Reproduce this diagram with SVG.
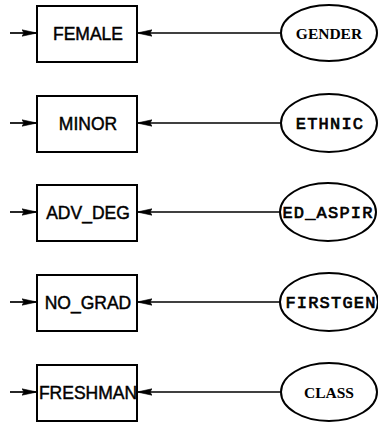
<svg xmlns="http://www.w3.org/2000/svg" width="378" height="424" viewBox="0 0 378 424">
<style>
.box{fill:#fff;stroke:#000;stroke-width:2}
.ell{fill:#fff;stroke:#000;stroke-width:2}
.lbl{font-family:"Liberation Sans",Arial,sans-serif;font-size:17.5px;text-anchor:middle;fill:#000;stroke:#000;stroke-width:0.45}
.mono{font-family:"Liberation Mono","Courier New",monospace;font-size:17px;letter-spacing:1.2px;text-anchor:middle;fill:#000;stroke:#000;stroke-width:0.7}
.serif{font-family:"Liberation Serif","Times New Roman",serif;font-size:15.5px;font-weight:bold;text-anchor:middle;fill:#000}
.con{stroke:#000;stroke-width:1.7;fill:none;marker-end:url(#ah)}
</style>
<defs>
<marker id="ah" markerUnits="userSpaceOnUse" markerWidth="16" markerHeight="9" refX="15" refY="4" orient="auto">
<path d="M0,0.8 L15,4 L0,7.2 L2,4 Z" fill="#000" stroke="#000" stroke-width="0.6"/>
</marker>
</defs>
<g id="connectors">
<line class="con" x1="10" y1="33" x2="37" y2="33"/>
<line class="con" x1="281" y1="33" x2="137" y2="33"/>
<line class="con" x1="10" y1="123" x2="37" y2="123"/>
<line class="con" x1="281" y1="123" x2="137" y2="123"/>
<line class="con" x1="10" y1="212" x2="37" y2="212"/>
<line class="con" x1="281" y1="212" x2="137" y2="212"/>
<line class="con" x1="10" y1="302" x2="37" y2="302"/>
<line class="con" x1="280" y1="302" x2="137" y2="302"/>
<line class="con" x1="10" y1="392" x2="37" y2="392"/>
<line class="con" x1="281" y1="392" x2="137" y2="392"/>
</g>
<g id="FEMALE"><rect class="box" x="37" y="6" width="100" height="56"/><text class="lbl" x="88" y="39.5">FEMALE</text></g>
<g id="MINOR"><rect class="box" x="37" y="96" width="100" height="56"/><text class="lbl" x="88" y="129.5">MINOR</text></g>
<g id="ADV_DEG"><rect class="box" x="37" y="185" width="100" height="56"/><text class="lbl" x="88" y="218.5">ADV_DEG</text></g>
<g id="NO_GRAD"><rect class="box" x="37" y="275" width="100" height="56"/><text class="lbl" x="88" y="308.5">NO_GRAD</text></g>
<g id="FRESHMAN"><rect class="box" x="37" y="365" width="100" height="56"/><text class="lbl" x="88" y="398.5">FRESHMAN</text></g>
<g id="GENDER"><ellipse class="ell" cx="329" cy="33" rx="48" ry="28"/><text class="serif" x="329" y="38.5">GENDER</text></g>
<g id="ETHNIC"><ellipse class="ell" cx="329" cy="123" rx="48" ry="29"/><text class="mono" x="330" y="128.5">ETHNIC</text></g>
<g id="ED_ASPIR"><ellipse class="ell" cx="328" cy="212" rx="48" ry="29"/><text class="mono" x="328" y="217.5">ED_ASPIR</text></g>
<g id="FIRSTGEN"><ellipse class="ell" cx="329" cy="302" rx="49" ry="29"/><text class="mono" x="331" y="307.5">FIRSTGEN</text></g>
<g id="CLASS"><ellipse class="ell" cx="329" cy="392" rx="48" ry="29"/><text class="serif" x="329" y="397.5">CLASS</text></g>
</svg>
